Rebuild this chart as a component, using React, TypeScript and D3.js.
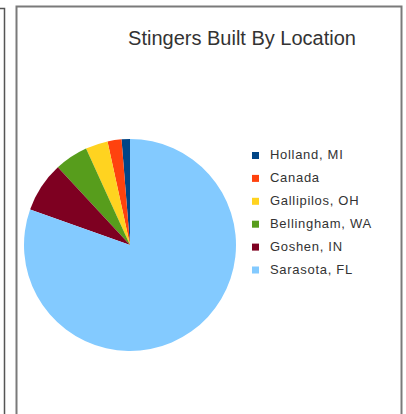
import React, { useRef, useEffect } from 'react';
import * as d3 from 'd3';

const locations = ['Holland, MI', 'Canada', 'Gallipilos, OH', 'Bellingham, WA', 'Goshen, IN', 'Sarasota, FL'];
const built = [3, 5, 8, 12, 18, 189];
const colors = ['#004586', '#ff420e', '#ffd320', '#579d1c', '#7e0021', '#83caff'];

export default function App() {
  const svgRef = useRef<SVGSVGElement>(null);

  useEffect(() => {
    if (!svgRef.current) return;
    const svg = d3.select(svgRef.current);
    svg.selectAll('*').remove();

    const width = 406;
    const height = 414;
    svg.attr('width', width).attr('height', height);

    // neighbour frame edge on the left
    svg.append('path')
      .attr('d', `M0,8.5H4.5V${height}`)
      .attr('fill', 'none')
      .attr('stroke', '#555')
      .attr('stroke-width', 1.5);

    // chart frame
    svg.append('rect')
      .attr('x', 16.5)
      .attr('y', 6.5)
      .attr('width', 385)
      .attr('height', height + 10)
      .attr('fill', '#fff')
      .attr('stroke', '#7a7a7a')
      .attr('stroke-width', 2);

    svg.append('text')
      .attr('x', 242)
      .attr('y', 45)
      .attr('text-anchor', 'middle')
      .style('font-family', '"Liberation Sans", Arial, sans-serif')
      .style('font-size', '20px')
      .style('fill', '#333')
      .text('Stingers Built By Location');

    const data = locations.map((name, i) => ({ name, value: built[i], color: colors[i] }));

    const pie = d3.pie<{ name: string; value: number; color: string }>()
      .value(d => d.value)
      .sort(null)
      .startAngle(0)
      .endAngle(-2 * Math.PI);

    const arc = d3.arc<d3.PieArcDatum<{ name: string; value: number; color: string }>>()
      .innerRadius(0)
      .outerRadius(106);

    const g = svg.append('g').attr('transform', 'translate(130,245)');
    g.selectAll('path')
      .data(pie(data))
      .enter()
      .append('path')
      .attr('d', arc)
      .attr('fill', d => d.data.color);

    // Legend
    const legend = svg.append('g').attr('transform', 'translate(252,152)');
    const rows = legend.selectAll('g')
      .data(data)
      .enter()
      .append('g')
      .attr('transform', (d, i) => `translate(0,${i * 22.9})`);

    rows.append('rect')
      .attr('width', 7)
      .attr('height', 7)
      .attr('fill', d => d.color);

    rows.append('text')
      .attr('x', 18)
      .attr('y', 7)
      .style('font-family', '"Liberation Sans", Arial, sans-serif')
      .style('font-size', '13px')
      .style('letter-spacing', '0.7px')
      .style('fill', '#333')
      .text(d => d.name);
  }, []);

  return (
    <div style={{ position: 'absolute', left: 0, top: 0 }}>
      <svg ref={svgRef} style={{ display: 'block' }} />
    </div>
  );
}
